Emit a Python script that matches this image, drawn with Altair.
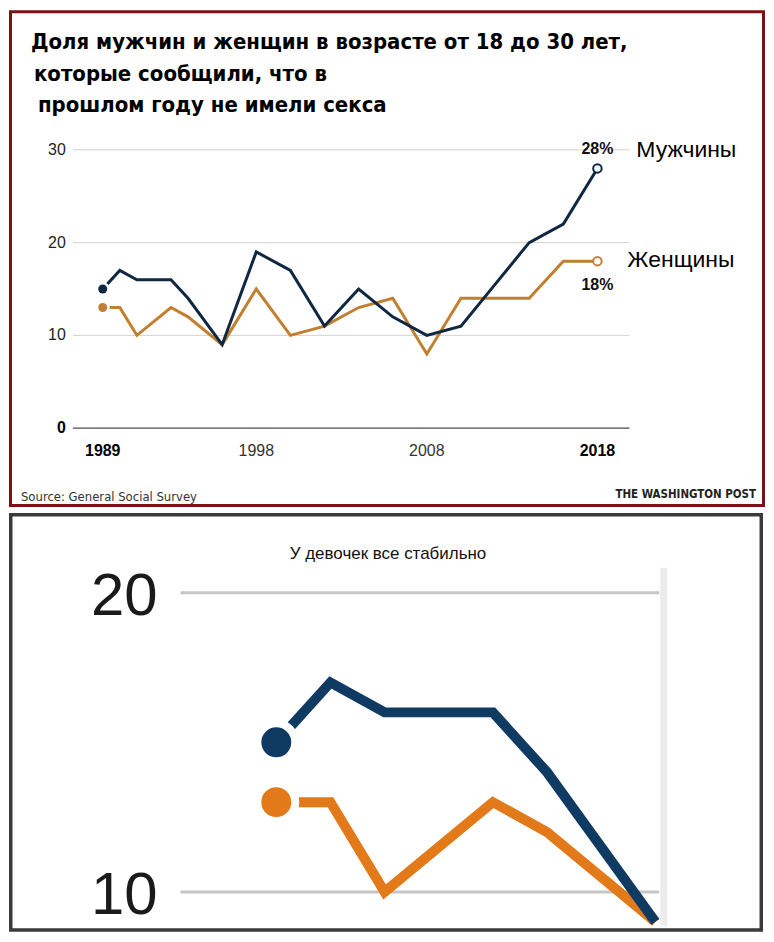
import altair as alt
import pandas as pd

# ---------------- data ----------------
years = [1989, 1990, 1991, 1993, 1994, 1996, 1998, 2000, 2002, 2004, 2006, 2008, 2010, 2012, 2014, 2016, 2018]
men = [15, 17, 16, 16, 14, 9, 19, 17, 11, 15, 12, 10, 11, 15.5, 20, 22, 28]
women = [13, 13, 10, 13, 12, 9, 15, 10, 11, 13, 14, 8, 14, 14, 14, 18, 18]
series_names = ["Мужчины", "Женщины"]
y_ticks_top = [10, 20, 30]
y_zero = [0]
x_ticks_top = [1989, 1998, 2008, 2018]
x_ticks_bold = [1989, 2018]
y_ticks_bottom = [10, 20]
title_lines = [
    "Доля мужчин и женщин в возрасте от 18 до 30 лет,",
    "которые сообщили, что в",
    "прошлом году не имели секса",
]
source_text = "Source: General Social Survey"
credit_text = "THE WASHINGTON POST"
bottom_title = "У девочек все стабильно"
zoom_last_year = 1996

TOP_COLORS = ["#0f2740", "#c27f2f"]
BOT_COLORS = ["#0f3a62", "#e27a1a"]

n = len(years)
df = pd.DataFrame({
    "year": years * 2,
    "value": men + women,
    "series": [series_names[0]] * n + [series_names[1]] * n,
})
first_year, last_year = years[0], years[-1]
one = pd.DataFrame({"k": [0]})

TITLE_FONT = "DejaVu Sans Condensed"
AX_FONT = "Liberation Sans"
NARROW = "DejaVu Sans Condensed"

# ---------------- top panel ----------------
W1, H1 = 758, 498
xs1 = alt.Scale(domain=[1983.504, 2027.824], nice=False, zero=False)
ys1 = alt.Scale(domain=[-8.4946, 45.054], nice=False, zero=False)
col1 = alt.Color("series:N", scale=alt.Scale(domain=series_names, range=TOP_COLORS), legend=None)


def X1(f="year"):
    return alt.X(f"{f}:Q", scale=xs1, axis=None)


def Y1(f="value"):
    return alt.Y(f"{f}:Q", scale=ys1, axis=None)


base1 = alt.Chart(df)

border1 = alt.Chart(one).mark_rect(fillOpacity=0, stroke="#7a1315", strokeWidth=3).encode(
    x=alt.value(1.5), x2=alt.value(W1 - 1.5), y=alt.value(1.5), y2=alt.value(H1 - 1.5))

grid1 = alt.Chart(pd.DataFrame({"v": y_ticks_top})).mark_rule(color="#d2d2d2", strokeWidth=1).encode(
    y=Y1("v"), x=alt.value(64), x2=alt.value(622))
zero1 = alt.Chart(pd.DataFrame({"v": y_zero})).mark_rule(color="#4a4a4a", strokeWidth=1.5).encode(
    y=Y1("v"), x=alt.value(64), x2=alt.value(622))

ylab1 = alt.Chart(pd.DataFrame({"v": y_ticks_top})).mark_text(
    align="right", baseline="middle", fontSize=16, font=AX_FONT, color="#222").encode(
    y=Y1("v"), x=alt.value(57), text=alt.Text("v:Q", format="d"))
ylab0 = alt.Chart(pd.DataFrame({"v": y_zero})).mark_text(
    align="right", baseline="middle", fontSize=16, font=AX_FONT, fontWeight="bold", color="#000").encode(
    y=Y1("v"), x=alt.value(57), text=alt.Text("v:Q", format="d"))

xdf = pd.DataFrame({"year": x_ticks_top, "bold": [y in x_ticks_bold for y in x_ticks_top]})
xlab_b = alt.Chart(xdf).transform_filter("datum.bold").mark_text(
    align="center", baseline="middle", fontSize=16, font=AX_FONT, fontWeight="bold", color="#000").encode(
    x=X1(), y=alt.value(442), text=alt.Text("year:Q", format="d"))
xlab_n = alt.Chart(xdf).transform_filter("!datum.bold").mark_text(
    align="center", baseline="middle", fontSize=16, font=AX_FONT, color="#333").encode(
    x=X1(), y=alt.value(442), text=alt.Text("year:Q", format="d"))

line_w1 = base1.transform_filter(alt.datum.series == series_names[1]).mark_line(strokeWidth=3).encode(
    x=X1(), y=Y1(), color=col1)
line_m1 = base1.transform_filter(alt.datum.series == series_names[0]).mark_line(strokeWidth=3).encode(
    x=X1(), y=Y1(), color=col1)

first1 = base1.transform_filter(alt.datum.year == first_year)
halo1 = first1.mark_point(shape="circle", filled=True, color="white", opacity=1, size=196).encode(x=X1(), y=Y1())
dot1 = first1.mark_point(shape="circle", filled=True, opacity=1, size=81).encode(x=X1(), y=Y1(), color=col1)

last1 = base1.transform_filter(alt.datum.year == last_year)
end1 = last1.mark_point(shape="circle", fill="white", fillOpacity=1, opacity=1, strokeWidth=2, size=72).encode(
    x=X1(), y=Y1(), color=col1)

pct_m = last1.transform_filter(alt.datum.series == series_names[0]).transform_calculate(
    lab="format(datum.value, 'd') + '%'").mark_text(
    align="center", baseline="middle", dy=-19, fontSize=16, font=AX_FONT, fontWeight="bold", color="#111").encode(
    x=X1(), y=Y1(), text="lab:N")
pct_w = last1.transform_filter(alt.datum.series == series_names[1]).transform_calculate(
    lab="format(datum.value, 'd') + '%'").mark_text(
    align="center", baseline="middle", dy=24, fontSize=16, font=AX_FONT, fontWeight="bold", color="#111").encode(
    x=X1(), y=Y1(), text="lab:N")

name_m = last1.transform_filter(alt.datum.series == series_names[0]).mark_text(
    align="left", baseline="middle", dx=39, dy=-18, fontSize=23, font=AX_FONT, color="#000").encode(
    x=X1(), y=Y1(), text="series:N")
name_w = last1.transform_filter(alt.datum.series == series_names[1]).mark_text(
    align="left", baseline="middle", dx=30, dy=-1, fontSize=23, font=AX_FONT, color="#000").encode(
    x=X1(), y=Y1(), text="series:N")

title_pos = [(22, 32), (25, 64), (29, 95)]
titles1 = [
    alt.Chart(pd.DataFrame({"t": [t]})).mark_text(
        align="left", baseline="middle", fontSize=22, font=TITLE_FONT, fontWeight="bold", color="#000").encode(
        x=alt.value(px), y=alt.value(py), text="t:N")
    for t, (px, py) in zip(title_lines, title_pos)
]

src1 = alt.Chart(pd.DataFrame({"t": [source_text]})).mark_text(
    align="left", baseline="middle", fontSize=13, font=NARROW, color="#333").encode(
    x=alt.value(12), y=alt.value(488), text="t:N")
cred1 = alt.Chart(pd.DataFrame({"t": [credit_text]})).mark_text(
    align="right", baseline="middle", fontSize=11.5, font=NARROW, fontWeight="bold", color="#222").encode(
    x=alt.value(749), y=alt.value(486), text="t:N")

top = alt.layer(
    border1, grid1, zero1, ylab1, ylab0, xlab_b, xlab_n,
    line_w1, line_m1, halo1, dot1, end1, pct_m, pct_w, name_m, name_w,
    *titles1, src1, cred1,
).properties(width=W1, height=H1)

# ---------------- bottom panel (zoom) ----------------
W2, H2 = 756, 420
xs2 = alt.Scale(domain=[1984.0645, 1997.9875], nice=False, zero=False)
ys2 = alt.Scale(domain=[8.667, 22.667], nice=False, zero=False)
col2 = alt.Color("series:N", scale=alt.Scale(domain=series_names, range=BOT_COLORS), legend=None)


def X2(f="year"):
    return alt.X(f"{f}:Q", scale=xs2, axis=None)


def Y2(f="value"):
    return alt.Y(f"{f}:Q", scale=ys2, axis=None)


base2 = alt.Chart(df).transform_filter(alt.datum.year <= zoom_last_year)

border2 = alt.Chart(one).mark_rect(fillOpacity=0, stroke="#3a3a3a", strokeWidth=3.5).encode(
    x=alt.value(1.75), x2=alt.value(W2 - 1.75), y=alt.value(1.75), y2=alt.value(H2 - 1.75))
edge2 = alt.Chart(one).mark_rect(color="#ececec").encode(
    x=alt.value(653), x2=alt.value(660), y=alt.value(55), y2=alt.value(414))

title2 = alt.Chart(pd.DataFrame({"t": [bottom_title]})).mark_text(
    align="center", baseline="middle", fontSize=17, font=AX_FONT, color="#111").encode(
    x=alt.value(380), y=alt.value(41), text="t:N")

grid2 = alt.Chart(pd.DataFrame({"v": y_ticks_bottom})).mark_rule(color="#c6c6c6", strokeWidth=3).encode(
    y=Y2("v"), x=alt.value(172), x2=alt.value(652))
ylab2 = alt.Chart(pd.DataFrame({"v": y_ticks_bottom})).mark_text(
    align="right", baseline="middle", dy=4, fontSize=60, font=AX_FONT, color="#1a1a1a").encode(
    y=Y2("v"), x=alt.value(149), text=alt.Text("v:Q", format="d"))

line_w2 = base2.transform_filter(alt.datum.series == series_names[1]).mark_line(strokeWidth=10).encode(
    x=X2(), y=Y2(), color=col2)
line_m2 = base2.transform_filter(alt.datum.series == series_names[0]).mark_line(strokeWidth=10).encode(
    x=X2(), y=Y2(), color=col2)

first2 = base2.transform_filter(alt.datum.year == first_year)
halo2 = first2.mark_point(shape="circle", filled=True, color="white", opacity=1, size=2116).encode(x=X2(), y=Y2())
dot2 = first2.mark_point(shape="circle", filled=True, opacity=1, size=900).encode(x=X2(), y=Y2(), color=col2)

bottom = alt.layer(
    border2, edge2, title2, grid2, ylab2, line_w2, line_m2, halo2, dot2,
).properties(width=W2, height=H2)

chart = alt.vconcat(top, bottom, spacing=4).resolve_scale(
    color="independent", x="independent", y="independent"
).properties(
    padding=0, background="white"
).configure_view(stroke="transparent")

chart.save("out.html", embed_options={"renderer": "svg", "actions": False})
